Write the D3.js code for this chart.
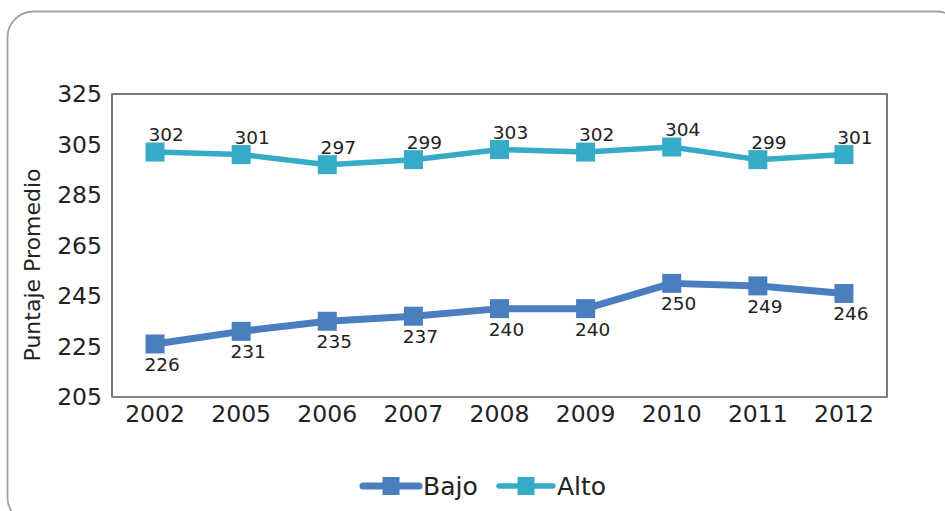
<!DOCTYPE html>
<html>
<head>
<meta charset="utf-8">
<script src="https://cdn.jsdelivr.net/npm/d3@7"></script>
<style>
  body { margin: 0; background: #fff; }
  text { font-family: "DejaVu Sans", Verdana, sans-serif; fill: #222; }
</style>
</head>
<body>
<div id="chart"></div>
<script>
const years = ["2002", "2005", "2006", "2007", "2008", "2009", "2010", "2011", "2012"];
const bajo = [226, 231, 235, 237, 240, 240, 250, 249, 246];
const alto = [302, 301, 297, 299, 303, 302, 304, 299, 301];
const yTicks = [205, 225, 245, 265, 285, 305, 325];

const W = 945, H = 511;
const plot = { left: 112, top: 94, right: 887, bottom: 397 };

const svg = d3.select("#chart")
  .append("svg")
  .attr("width", W)
  .attr("height", H);

// outer rounded frame (runs off the right and bottom edges)
svg.append("rect")
  .attr("x", 7.5)
  .attr("y", 11.5)
  .attr("width", 955)
  .attr("height", 512)
  .attr("rx", 26)
  .attr("fill", "#fff")
  .attr("stroke", "#a0a0a0")
  .attr("stroke-width", 1.8);

const x = d3.scaleBand()
  .domain(years)
  .range([plot.left, plot.right]);

const y = d3.scaleLinear()
  .domain([205, 325])
  .range([plot.bottom, plot.top]);

// plot area border
svg.append("rect")
  .attr("x", plot.left)
  .attr("y", plot.top)
  .attr("width", plot.right - plot.left)
  .attr("height", plot.bottom - plot.top)
  .attr("fill", "none")
  .attr("stroke", "#333")
  .attr("stroke-width", 1.3);

// left and bottom axis lines are grey
svg.append("line")
  .attr("x1", plot.left).attr("x2", plot.left)
  .attr("y1", plot.top).attr("y2", plot.bottom)
  .attr("stroke", "#777").attr("stroke-width", 1.5);
svg.append("line")
  .attr("x1", plot.left).attr("x2", plot.right)
  .attr("y1", plot.bottom).attr("y2", plot.bottom)
  .attr("stroke", "#888").attr("stroke-width", 1.5);

// y tick labels
svg.append("g")
  .selectAll("text")
  .data(yTicks)
  .join("text")
  .attr("x", plot.left - 10)
  .attr("y", d => y(d))
  .attr("dy", "0.36em")
  .attr("text-anchor", "end")
  .style("font-size", "23.5px")
  .text(d => d);

// x tick labels
svg.append("g")
  .selectAll("text")
  .data(years)
  .join("text")
  .attr("x", d => x(d) + x.bandwidth() / 2)
  .attr("y", plot.bottom + 25)
  .attr("text-anchor", "middle")
  .style("font-size", "23.5px")
  .text(d => d);

// y axis title
svg.append("text")
  .attr("transform", "translate(40," + 265 + ") rotate(-90)")
  .attr("text-anchor", "middle")
  .style("font-size", "22px")
  .text("Puntaje Promedio");

const series = [
  { name: "Bajo", values: bajo, color: "#4a7ebf", width: 7, labelDy: 27 },
  { name: "Alto", values: alto, color: "#35abc8", width: 5.5, labelDy: -11 }
];

const line = d3.line()
  .x(d => x(d.year) + x.bandwidth() / 2)
  .y(d => y(d.value));

const ms = 19;

series.forEach(s => {
  const pts = years.map((yr, i) => ({ year: yr, value: s.values[i] }));

  svg.append("path")
    .datum(pts)
    .attr("d", line)
    .attr("fill", "none")
    .attr("stroke", s.color)
    .attr("stroke-width", s.width)
    .attr("stroke-linejoin", "round");

  svg.append("g")
    .selectAll("rect")
    .data(pts)
    .join("rect")
    .attr("x", d => x(d.year) + x.bandwidth() / 2 - ms / 2)
    .attr("y", d => y(d.value) - ms / 2)
    .attr("width", ms)
    .attr("height", ms)
    .attr("fill", s.color);

  svg.append("g")
    .selectAll("text")
    .data(pts)
    .join("text")
    .attr("x", d => x(d.year) + x.bandwidth() / 2 + (s.name === "Alto" ? 11 : 7))
    .attr("y", d => y(d.value) + s.labelDy)
    .attr("text-anchor", "middle")
    .style("font-size", "18.5px")
    .text(d => d.value);
});

// legend
const legend = svg.append("g");
const legendItems = [
  { s: series[0], x0: 363, x1: 419, tx: 423 },
  { s: series[1], x0: 499, x1: 553, tx: 557 }
];
legendItems.forEach(it => {
  const cx = (it.x0 + it.x1) / 2;
  legend.append("line")
    .attr("x1", it.x0).attr("x2", it.x1)
    .attr("y1", 486).attr("y2", 486)
    .attr("stroke", it.s.color)
    .attr("stroke-width", it.s.width)
    .attr("stroke-linecap", "round");
  legend.append("rect")
    .attr("x", cx - 8.5).attr("y", 477)
    .attr("width", 17).attr("height", 18)
    .attr("fill", it.s.color);
  legend.append("text")
    .attr("x", it.tx)
    .attr("y", 486)
    .attr("dy", "0.36em")
    .style("font-size", "25px")
    .text(it.s.name);
});
</script>
</body>
</html>
